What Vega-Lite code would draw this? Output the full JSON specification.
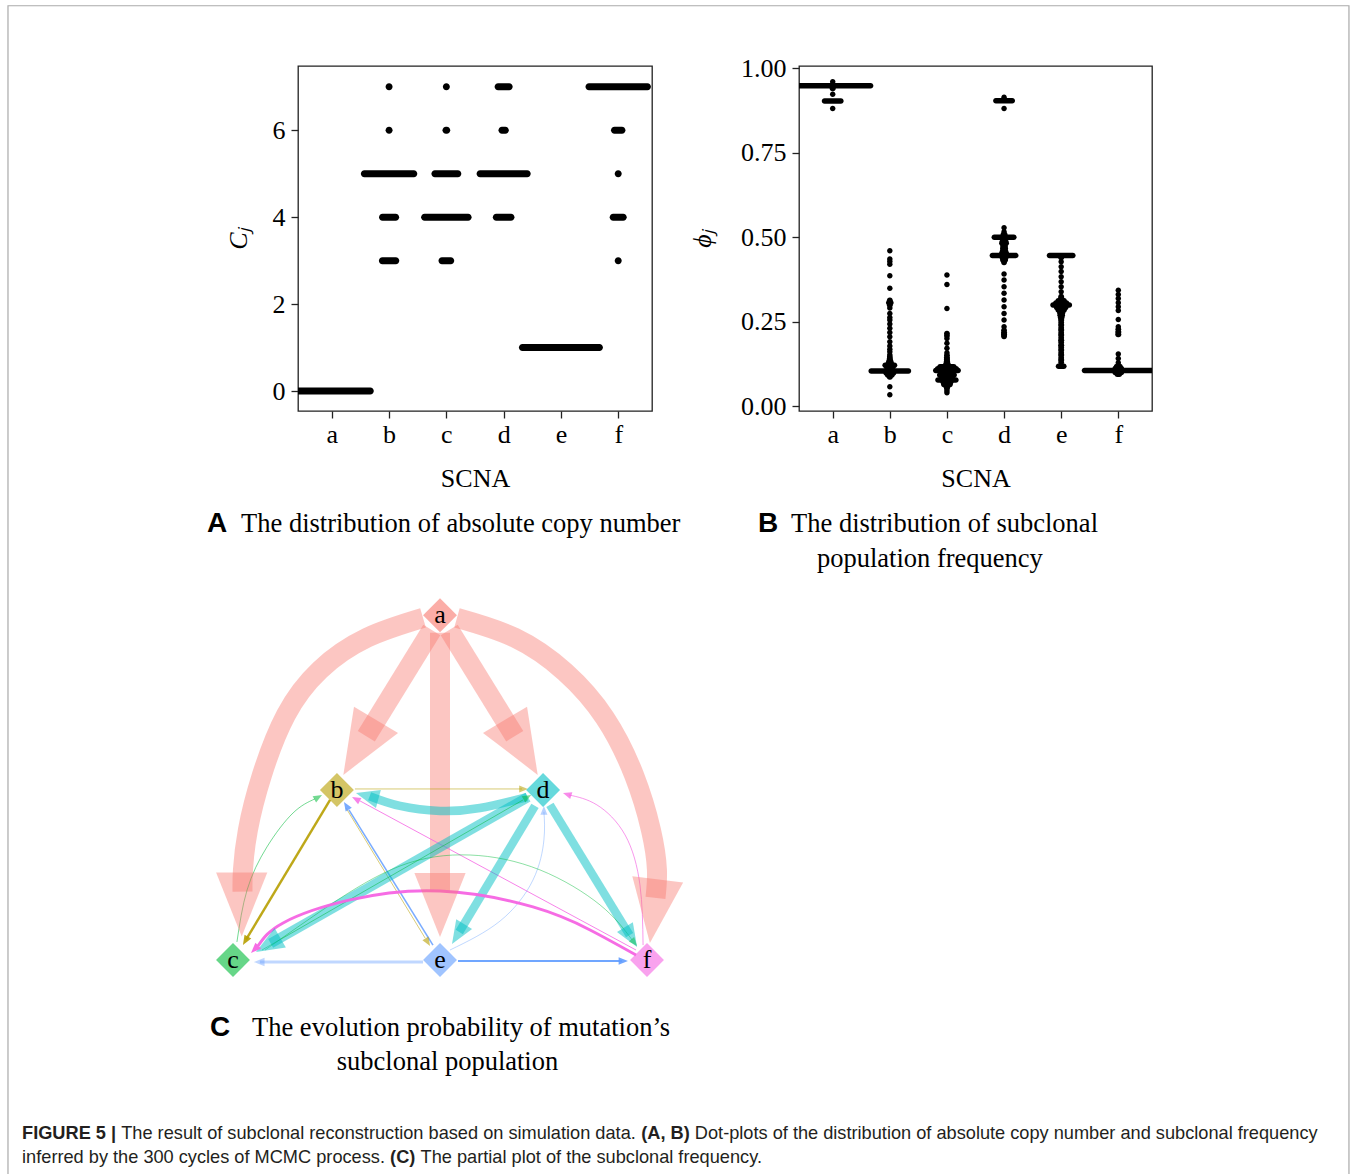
{
 "$schema": "https://vega.github.io/schema/vega-lite/v6.json",
 "background": "white",
 "padding": {"left": 7, "top": 5, "right": 0, "bottom": 0},
 "config": {
  "font": "Liberation Serif",
  "view": {"stroke": null},
  "axis": {"labelFont": "Liberation Serif", "labelFontSize": 26, "labelColor": "#000000", "titleFont": "Liberation Serif", "titleFontSize": 26, "titleFontWeight": "normal", "titleColor": "#000000", "tickColor": "#222222", "tickSize": 7, "tickWidth": 1.3, "domain": false, "grid": false}
 },
 "datasets": {
  "dotsA": [
   {"scna":"a","cn":0,"n":300},
   {"scna":"b","cn":7,"n":1},{"scna":"b","cn":6,"n":1},{"scna":"b","cn":5,"n":193},{"scna":"b","cn":4,"n":52},{"scna":"b","cn":3,"n":53},
   {"scna":"c","cn":7,"n":1},{"scna":"c","cn":6,"n":4},{"scna":"c","cn":5,"n":90},{"scna":"c","cn":4,"n":170},{"scna":"c","cn":3,"n":35},
   {"scna":"d","cn":7,"n":44},{"scna":"d","cn":6,"n":14},{"scna":"d","cn":5,"n":184},{"scna":"d","cn":4,"n":58},
   {"scna":"e","cn":1,"n":300},
   {"scna":"f","cn":7,"n":228},{"scna":"f","cn":6,"n":30},{"scna":"f","cn":5,"n":1},{"scna":"f","cn":4,"n":40},{"scna":"f","cn":3,"n":1}
  ],
  "dotsB": [
   {"scna":"a","phi":0.96,"n":1},{"scna":"a","phi":0.948,"n":241},{"scna":"a","phi":0.94,"n":3},{"scna":"a","phi":0.923,"n":1},{"scna":"a","phi":0.903,"n":53},{"scna":"a","phi":0.881,"n":1},
   {"scna":"b","phi":0.46,"n":1},{"scna":"b","phi":0.435,"n":1},{"scna":"b","phi":0.428,"n":1},{"scna":"b","phi":0.42,"n":1},{"scna":"b","phi":0.386,"n":1},{"scna":"b","phi":0.349,"n":1},{"scna":"b","phi":0.313,"n":2},{"scna":"b","phi":0.306,"n":8},{"scna":"b","phi":0.298,"n":2},{"scna":"b","phi":0.29,"n":1},{"scna":"b","phi":0.274,"n":1},{"scna":"b","phi":0.262,"n":1},{"scna":"b","phi":0.255,"n":1},{"scna":"b","phi":0.243,"n":1},{"scna":"b","phi":0.23,"n":1},{"scna":"b","phi":0.218,"n":1},{"scna":"b","phi":0.205,"n":1},{"scna":"b","phi":0.19,"n":1},{"scna":"b","phi":0.178,"n":1},{"scna":"b","phi":0.168,"n":1},{"scna":"b","phi":0.161,"n":1},{"scna":"b","phi":0.152,"n":1},{"scna":"b","phi":0.146,"n":2},{"scna":"b","phi":0.14,"n":3},{"scna":"b","phi":0.133,"n":6},{"scna":"b","phi":0.127,"n":10},{"scna":"b","phi":0.121,"n":31},{"scna":"b","phi":0.114,"n":20},{"scna":"b","phi":0.104,"n":119},{"scna":"b","phi":0.098,"n":25},{"scna":"b","phi":0.092,"n":15},{"scna":"b","phi":0.086,"n":3},{"scna":"b","phi":0.057,"n":1},{"scna":"b","phi":0.033,"n":1},
   {"scna":"c","phi":0.388,"n":1},{"scna":"c","phi":0.36,"n":1},{"scna":"c","phi":0.289,"n":1},{"scna":"c","phi":0.215,"n":2},{"scna":"c","phi":0.208,"n":2},{"scna":"c","phi":0.2,"n":1},{"scna":"c","phi":0.186,"n":1},{"scna":"c","phi":0.171,"n":1},{"scna":"c","phi":0.158,"n":1},{"scna":"c","phi":0.15,"n":2},{"scna":"c","phi":0.143,"n":3},{"scna":"c","phi":0.137,"n":3},{"scna":"c","phi":0.131,"n":4},{"scna":"c","phi":0.124,"n":8},{"scna":"c","phi":0.116,"n":45},{"scna":"c","phi":0.11,"n":60},{"scna":"c","phi":0.105,"n":72},{"scna":"c","phi":0.098,"n":40},{"scna":"c","phi":0.092,"n":47},{"scna":"c","phi":0.085,"n":35},{"scna":"c","phi":0.077,"n":58},{"scna":"c","phi":0.07,"n":25},{"scna":"c","phi":0.064,"n":21},{"scna":"c","phi":0.058,"n":6},{"scna":"c","phi":0.052,"n":2},{"scna":"c","phi":0.045,"n":1},{"scna":"c","phi":0.039,"n":1},
   {"scna":"d","phi":0.914,"n":1},{"scna":"d","phi":0.904,"n":53},{"scna":"d","phi":0.881,"n":1},{"scna":"d","phi":0.528,"n":1},{"scna":"d","phi":0.516,"n":1},{"scna":"d","phi":0.508,"n":6},{"scna":"d","phi":0.5,"n":63},{"scna":"d","phi":0.493,"n":10},{"scna":"d","phi":0.487,"n":12},{"scna":"d","phi":0.482,"n":15},{"scna":"d","phi":0.474,"n":8},{"scna":"d","phi":0.467,"n":9},{"scna":"d","phi":0.46,"n":10},{"scna":"d","phi":0.453,"n":15},{"scna":"d","phi":0.446,"n":75},{"scna":"d","phi":0.439,"n":12},{"scna":"d","phi":0.432,"n":9},{"scna":"d","phi":0.425,"n":2},{"scna":"d","phi":0.391,"n":1},{"scna":"d","phi":0.373,"n":1},{"scna":"d","phi":0.353,"n":1},{"scna":"d","phi":0.334,"n":1},{"scna":"d","phi":0.314,"n":1},{"scna":"d","phi":0.294,"n":1},{"scna":"d","phi":0.274,"n":1},{"scna":"d","phi":0.255,"n":1},{"scna":"d","phi":0.235,"n":1},{"scna":"d","phi":0.224,"n":2},{"scna":"d","phi":0.217,"n":3},{"scna":"d","phi":0.211,"n":3},{"scna":"d","phi":0.206,"n":2},
   {"scna":"e","phi":0.446,"n":75},{"scna":"e","phi":0.44,"n":3},{"scna":"e","phi":0.427,"n":1},{"scna":"e","phi":0.412,"n":1},{"scna":"e","phi":0.398,"n":1},{"scna":"e","phi":0.383,"n":1},{"scna":"e","phi":0.368,"n":1},{"scna":"e","phi":0.353,"n":1},{"scna":"e","phi":0.338,"n":1},{"scna":"e","phi":0.324,"n":2},{"scna":"e","phi":0.318,"n":4},{"scna":"e","phi":0.312,"n":20},{"scna":"e","phi":0.305,"n":35},{"scna":"e","phi":0.299,"n":53},{"scna":"e","phi":0.292,"n":30},{"scna":"e","phi":0.284,"n":20},{"scna":"e","phi":0.276,"n":10},{"scna":"e","phi":0.269,"n":8},{"scna":"e","phi":0.262,"n":5},{"scna":"e","phi":0.255,"n":3},{"scna":"e","phi":0.247,"n":2},{"scna":"e","phi":0.24,"n":3},{"scna":"e","phi":0.232,"n":2},{"scna":"e","phi":0.225,"n":3},{"scna":"e","phi":0.217,"n":2},{"scna":"e","phi":0.21,"n":3},{"scna":"e","phi":0.202,"n":2},{"scna":"e","phi":0.195,"n":3},{"scna":"e","phi":0.188,"n":2},{"scna":"e","phi":0.18,"n":3},{"scna":"e","phi":0.173,"n":2},{"scna":"e","phi":0.166,"n":3},{"scna":"e","phi":0.158,"n":2},{"scna":"e","phi":0.151,"n":3},{"scna":"e","phi":0.143,"n":2},{"scna":"e","phi":0.136,"n":3},{"scna":"e","phi":0.129,"n":2},{"scna":"e","phi":0.118,"n":18},
   {"scna":"f","phi":0.343,"n":1},{"scna":"f","phi":0.33,"n":1},{"scna":"f","phi":0.318,"n":1},{"scna":"f","phi":0.306,"n":1},{"scna":"f","phi":0.294,"n":1},{"scna":"f","phi":0.283,"n":1},{"scna":"f","phi":0.256,"n":1},{"scna":"f","phi":0.235,"n":1},{"scna":"f","phi":0.227,"n":2},{"scna":"f","phi":0.219,"n":3},{"scna":"f","phi":0.212,"n":3},{"scna":"f","phi":0.154,"n":1},{"scna":"f","phi":0.141,"n":1},{"scna":"f","phi":0.128,"n":1},{"scna":"f","phi":0.117,"n":12},{"scna":"f","phi":0.111,"n":21},{"scna":"f","phi":0.105,"n":215},{"scna":"f","phi":0.099,"n":21},{"scna":"f","phi":0.094,"n":8}
  ],
  "nodes": [
   {"node":"a","x":0,"y":166.5},{"node":"b","x":-49.8,"y":82.1},{"node":"d","x":49.8,"y":82.1},
   {"node":"c","x":-100,"y":0},{"node":"e","x":0,"y":0},{"node":"f","x":100,"y":0}
  ],
  "edges": [
   {"e":"ab","src":"a","w":0.9,"alpha":0.42,"i":0,"x":-3.96,"y":159.4},{"e":"ab","src":"a","w":0.9,"alpha":0.42,"i":1,"x":-35.6,"y":108.1},
   {"e":"ad","src":"a","w":0.9,"alpha":0.42,"i":0,"x":4.44,"y":159.4},{"e":"ad","src":"a","w":0.9,"alpha":0.42,"i":1,"x":36.1,"y":108.1},
   {"e":"ae","src":"a","w":0.9,"alpha":0.42,"i":0,"x":0,"y":158.0},{"e":"ae","src":"a","w":0.9,"alpha":0.42,"i":1,"x":0,"y":32.9},
   {"e":"ac","src":"a","w":0.9,"alpha":0.42,"i":0,"x":-8.2,"y":165.2},{"e":"ac","src":"a","w":0.9,"alpha":0.42,"i":1,"x":-35.3,"y":155.6},{"e":"ac","src":"a","w":0.9,"alpha":0.42,"i":2,"x":-58.0,"y":140.1},{"e":"ac","src":"a","w":0.9,"alpha":0.42,"i":3,"x":-74.4,"y":118.4},{"e":"ac","src":"a","w":0.9,"alpha":0.42,"i":4,"x":-86.0,"y":89.4},{"e":"ac","src":"a","w":0.9,"alpha":0.42,"i":5,"x":-92.8,"y":62.8},{"e":"ac","src":"a","w":0.9,"alpha":0.42,"i":6,"x":-95.2,"y":43.5},{"e":"ac","src":"a","w":0.9,"alpha":0.42,"i":7,"x":-95.4,"y":33.0},
   {"e":"af","src":"a","w":0.9,"alpha":0.42,"i":0,"x":8.2,"y":165.2},{"e":"af","src":"a","w":0.9,"alpha":0.42,"i":1,"x":36.2,"y":155.6},{"e":"af","src":"a","w":0.9,"alpha":0.42,"i":2,"x":60.4,"y":139.1},{"e":"af","src":"a","w":0.9,"alpha":0.42,"i":3,"x":79.7,"y":116.9},{"e":"af","src":"a","w":0.9,"alpha":0.42,"i":4,"x":93.7,"y":89.4},{"e":"af","src":"a","w":0.9,"alpha":0.42,"i":5,"x":101.9,"y":62.8},{"e":"af","src":"a","w":0.9,"alpha":0.42,"i":6,"x":104.8,"y":43.5},{"e":"af","src":"a","w":0.9,"alpha":0.42,"i":7,"x":104.1,"y":30.0},
   {"e":"bd","src":"b","w":0.045,"alpha":0.55,"i":0,"x":-41.1,"y":82.6},{"e":"bd","src":"b","w":0.045,"alpha":0.55,"i":1,"x":39.6,"y":82.6},
   {"e":"db","src":"d","w":0.38,"alpha":0.5,"i":0,"x":42.0,"y":78.7},{"e":"db","src":"d","w":0.38,"alpha":0.5,"i":1,"x":19.3,"y":73.4},{"e":"db","src":"d","w":0.38,"alpha":0.5,"i":2,"x":0,"y":72.0},{"e":"db","src":"d","w":0.38,"alpha":0.5,"i":3,"x":-19.3,"y":74.4},{"e":"db","src":"d","w":0.38,"alpha":0.5,"i":4,"x":-34.0,"y":79.1},
   {"e":"bc","src":"b","w":0.11,"alpha":0.9,"i":0,"x":-53.1,"y":77.3},{"e":"bc","src":"b","w":0.11,"alpha":0.9,"i":1,"x":-93.7,"y":9.8},
   {"e":"cb","src":"c","w":0.045,"alpha":0.55,"i":0,"x":-98.1,"y":8.7},{"e":"cb","src":"c","w":0.045,"alpha":0.55,"i":1,"x":-93.2,"y":33.8},{"e":"cb","src":"c","w":0.045,"alpha":0.55,"i":2,"x":-83.6,"y":54.6},{"e":"cb","src":"c","w":0.045,"alpha":0.55,"i":3,"x":-71.0,"y":71.0},{"e":"cb","src":"c","w":0.045,"alpha":0.55,"i":4,"x":-60.4,"y":77.8},
   {"e":"eb","src":"e","w":0.07,"alpha":0.85,"i":0,"x":-3.4,"y":7.2},{"e":"eb","src":"e","w":0.07,"alpha":0.85,"i":1,"x":-44.0,"y":72.5},
   {"e":"be","src":"b","w":0.04,"alpha":0.6,"i":0,"x":-45.4,"y":73.4},{"e":"be","src":"b","w":0.04,"alpha":0.6,"i":1,"x":-7.2,"y":10.6},
   {"e":"fb","src":"f","w":0.045,"alpha":0.8,"i":0,"x":94.7,"y":4.8},{"e":"fb","src":"f","w":0.045,"alpha":0.8,"i":1,"x":-38.6,"y":76.8},
   {"e":"dc","src":"d","w":0.45,"alpha":0.5,"i":0,"x":42.5,"y":78.7},{"e":"dc","src":"d","w":0.45,"alpha":0.5,"i":1,"x":-81.8,"y":8.0},
   {"e":"cd","src":"c","w":0.045,"alpha":0.5,"i":0,"x":-86.0,"y":4.8},{"e":"cd","src":"c","w":0.045,"alpha":0.5,"i":1,"x":40.1,"y":77.3},
   {"e":"de","src":"d","w":0.38,"alpha":0.5,"i":0,"x":45.9,"y":74.4},{"e":"de","src":"d","w":0.38,"alpha":0.5,"i":1,"x":9.3,"y":13.5},
   {"e":"df","src":"d","w":0.38,"alpha":0.5,"i":0,"x":53.1,"y":74.9},{"e":"df","src":"d","w":0.38,"alpha":0.5,"i":1,"x":91.6,"y":12.0},
   {"e":"ed","src":"e","w":0.04,"alpha":0.45,"i":0,"x":4.8,"y":4.8},{"e":"ed","src":"e","w":0.04,"alpha":0.45,"i":1,"x":29.0,"y":18.8},{"e":"ed","src":"e","w":0.04,"alpha":0.45,"i":2,"x":44.9,"y":38.6},{"e":"ed","src":"e","w":0.04,"alpha":0.45,"i":3,"x":50.2,"y":58.0},{"e":"ed","src":"e","w":0.04,"alpha":0.45,"i":4,"x":50.2,"y":71.5},
   {"e":"fd","src":"f","w":0.04,"alpha":0.75,"i":0,"x":98.1,"y":7.2},{"e":"fd","src":"f","w":0.04,"alpha":0.75,"i":1,"x":96.6,"y":36.2},{"e":"fd","src":"f","w":0.04,"alpha":0.75,"i":2,"x":89.4,"y":60.4},{"e":"fd","src":"f","w":0.04,"alpha":0.75,"i":3,"x":75.8,"y":74.9},{"e":"fd","src":"f","w":0.04,"alpha":0.75,"i":4,"x":62.3,"y":79.7},
   {"e":"cf","src":"c","w":0.045,"alpha":0.45,"i":0,"x":-84.5,"y":4.8},{"e":"cf","src":"c","w":0.045,"alpha":0.45,"i":1,"x":-53.1,"y":26.6},{"e":"cf","src":"c","w":0.045,"alpha":0.45,"i":2,"x":-19.3,"y":45.4},{"e":"cf","src":"c","w":0.045,"alpha":0.45,"i":3,"x":14.5,"y":50.7},{"e":"cf","src":"c","w":0.045,"alpha":0.45,"i":4,"x":48.3,"y":43.5},{"e":"cf","src":"c","w":0.045,"alpha":0.45,"i":5,"x":77.3,"y":26.6},{"e":"cf","src":"c","w":0.045,"alpha":0.45,"i":6,"x":92.8,"y":9.7},
   {"e":"fc","src":"f","w":0.13,"alpha":0.95,"i":0,"x":94.7,"y":2.4},{"e":"fc","src":"f","w":0.13,"alpha":0.95,"i":1,"x":72.5,"y":14.5},{"e":"fc","src":"f","w":0.13,"alpha":0.95,"i":2,"x":44.9,"y":25.6},{"e":"fc","src":"f","w":0.13,"alpha":0.95,"i":3,"x":0,"y":33.3},{"e":"fc","src":"f","w":0.13,"alpha":0.95,"i":4,"x":-43.5,"y":29.0},{"e":"fc","src":"f","w":0.13,"alpha":0.95,"i":5,"x":-75.8,"y":17.9},{"e":"fc","src":"f","w":0.13,"alpha":0.95,"i":6,"x":-87.9,"y":6.8},
   {"e":"ec","src":"e","w":0.14,"alpha":0.4,"i":0,"x":-8.2,"y":-1.0},{"e":"ec","src":"e","w":0.14,"alpha":0.4,"i":1,"x":-87.0,"y":-1.0},
   {"e":"ef","src":"e","w":0.09,"alpha":0.9,"i":0,"x":8.7,"y":-0.5},{"e":"ef","src":"e","w":0.09,"alpha":0.9,"i":1,"x":87.9,"y":-0.5}
  ],
  "heads": [
   {"e":"ab","src":"a","w":0.9,"alpha":0.42,"x":-46.7,"y":89.4,"ang":-149.3},
   {"e":"ad","src":"a","w":0.9,"alpha":0.42,"x":47.2,"y":89.4,"ang":149.3},
   {"e":"ae","src":"a","w":0.9,"alpha":0.42,"x":0,"y":11.1,"ang":180},
   {"e":"ac","src":"a","w":0.9,"alpha":0.42,"x":-95.8,"y":11.3,"ang":180},
   {"e":"af","src":"a","w":0.9,"alpha":0.42,"x":101.4,"y":8.2,"ang":-173},
   {"e":"bd","src":"b","w":0.045,"alpha":0.55,"x":42.5,"y":82.6,"ang":90},
   {"e":"db","src":"d","w":0.38,"alpha":0.5,"x":-40.6,"y":80.7,"ang":-74.7},
   {"e":"bc","src":"b","w":0.11,"alpha":0.9,"x":-95.2,"y":7.2,"ang":-149.5},
   {"e":"cb","src":"c","w":0.045,"alpha":0.55,"x":-57.0,"y":79.7,"ang":60.3},
   {"e":"eb","src":"e","w":0.07,"alpha":0.85,"x":-46.4,"y":76.3,"ang":-31.9},
   {"e":"be","src":"b","w":0.04,"alpha":0.6,"x":-4.8,"y":6.8,"ang":148.1},
   {"e":"fb","src":"f","w":0.045,"alpha":0.8,"x":-42.5,"y":78.7,"ang":-61.7},
   {"e":"dc","src":"d","w":0.45,"alpha":0.5,"x":-88.9,"y":3.9,"ang":-120.2},
   {"e":"cd","src":"c","w":0.045,"alpha":0.5,"x":44.0,"y":79.7,"ang":60.1},
   {"e":"de","src":"d","w":0.38,"alpha":0.5,"x":5.8,"y":7.7,"ang":-148.5},
   {"e":"df","src":"d","w":0.38,"alpha":0.5,"x":95.2,"y":6.3,"ang":148.5},
   {"e":"ed","src":"e","w":0.04,"alpha":0.45,"x":50.2,"y":74.4,"ang":0},
   {"e":"fd","src":"f","w":0.04,"alpha":0.75,"x":59.4,"y":80.7,"ang":-71.6},
   {"e":"cf","src":"c","w":0.045,"alpha":0.45,"x":95.2,"y":6.8,"ang":140.2},
   {"e":"fc","src":"f","w":0.13,"alpha":0.95,"x":-91.3,"y":3.4,"ang":-135},
   {"e":"ec","src":"e","w":0.14,"alpha":0.4,"x":-89.9,"y":-1.0,"ang":-90},
   {"e":"ef","src":"e","w":0.09,"alpha":0.9,"x":90.8,"y":-0.5,"ang":90}
  ]
 },
 "bounds": "flush",
 "spacing": 524,
 "resolve": {"scale": {"size": "independent", "opacity": "independent", "strokeWidth": "independent", "angle": "independent"}},
 "vconcat": [
  {
   "bounds": "flush",
   "spacing": 147,
   "resolve": {"scale": {"size": "independent"}},
   "hconcat": [
    {
     "width": 354, "height": 345,
     "view": {"stroke": "#222222", "strokeWidth": 1.3},
     "data": {"name": "dotsA"},
     "mark": {"type": "tick", "orient": "horizontal", "thickness": 7, "cornerRadius": 3.5, "color": "#000000", "opacity": 1, "clip": true},
     "encoding": {
      "x": {"field": "scna", "type": "nominal", "sort": ["a","b","c","d","e","f"], "scale": {"type": "point", "padding": 0.59}, "axis": {"title": "SCNA", "labelAngle": 0, "labelPadding": 3, "titlePadding": 18}},
      "y": {"field": "cn", "type": "quantitative", "scale": {"domain": [-0.46, 7.48], "nice": false, "zero": false}, "axis": {"values": [0,2,4,6], "format": "d", "labelPadding": 6, "title": "Cⱼ", "titleFontStyle": "italic", "titlePadding": 21}},
      "size": {"field": "n", "type": "quantitative", "scale": {"type": "linear", "domain": [1, 300], "range": [7, 84], "zero": false}, "legend": null}
     }
    },
    {
     "width": 353, "height": 345,
     "view": {"stroke": "#222222", "strokeWidth": 1.3},
     "data": {"name": "dotsB"},
     "mark": {"type": "tick", "orient": "horizontal", "thickness": 5.5, "cornerRadius": 2.75, "color": "#000000", "opacity": 1, "clip": true},
     "encoding": {
      "x": {"field": "scna", "type": "nominal", "sort": ["a","b","c","d","e","f"], "scale": {"type": "point", "padding": 0.59}, "axis": {"title": "SCNA", "labelAngle": 0, "labelPadding": 3, "titlePadding": 18}},
      "y": {"field": "phi", "type": "quantitative", "scale": {"domain": [-0.0148, 1.0068], "nice": false, "zero": false}, "axis": {"values": [0,0.25,0.5,0.75,1], "format": ".2f", "labelPadding": 6, "title": "ϕⱼ", "titleFontStyle": "italic", "titlePadding": 25}},
      "size": {"field": "n", "type": "quantitative", "scale": {"type": "linear", "domain": [1, 300], "range": [5.5, 100], "zero": false}, "legend": null}
     }
    }
   ]
  },
  {
   "width": 402, "height": 400,
   "view": {"stroke": null},
   "layer": [
    {
     "data": {"name": "edges"},
     "mark": {"type": "line", "interpolate": "natural", "strokeCap": "butt"},
     "encoding": {
      "x": {"field": "x", "type": "quantitative", "scale": {"domain": [-68.6, 125.6], "nice": false, "zero": false}, "axis": null},
      "y": {"field": "y", "type": "quantitative", "scale": {"domain": [-14.5, 178.7], "nice": false, "zero": false}, "axis": null},
      "order": {"field": "i", "type": "quantitative"},
      "detail": {"field": "e", "type": "nominal"},
      "color": {"field": "src", "type": "nominal", "scale": {"domain": ["a","b","c","d","e","f"], "range": ["#F8766D","#B79F00","#00BA38","#00BFC4","#619CFF","#F564E3"]}, "legend": null},
      "strokeWidth": {"field": "w", "type": "quantitative", "scale": {"domain": [0, 0.9], "range": [0, 20]}, "legend": null},
      "opacity": {"field": "alpha", "type": "quantitative", "scale": null}
     }
    },
    {
     "data": {"name": "heads"},
     "mark": {"type": "point", "shape": "M0,0L-0.4,1L0.4,1Z", "filled": true, "strokeWidth": 0},
     "encoding": {
      "x": {"field": "x", "type": "quantitative", "scale": {"domain": [-68.6, 125.6], "nice": false, "zero": false}, "axis": null},
      "y": {"field": "y", "type": "quantitative", "scale": {"domain": [-14.5, 178.7], "nice": false, "zero": false}, "axis": null},
      "angle": {"field": "ang", "type": "quantitative", "scale": null},
      "size": {"field": "w", "type": "quantitative", "scale": {"type": "pow", "exponent": 2.5, "domain": [0, 0.9], "range": [300, 16400]}, "legend": null},
      "color": {"field": "src", "type": "nominal", "scale": {"domain": ["a","b","c","d","e","f"], "range": ["#F8766D","#B79F00","#00BA38","#00BFC4","#619CFF","#F564E3"]}, "legend": null},
      "opacity": {"field": "alpha", "type": "quantitative", "scale": null}
     }
    },
    {
     "data": {"name": "nodes"},
     "mark": {"type": "point", "shape": "diamond", "filled": true, "size": 1150, "opacity": 0.6, "strokeWidth": 0},
     "encoding": {
      "x": {"field": "x", "type": "quantitative", "scale": {"domain": [-68.6, 125.6], "nice": false, "zero": false}, "axis": null},
      "y": {"field": "y", "type": "quantitative", "scale": {"domain": [-14.5, 178.7], "nice": false, "zero": false}, "axis": null},
      "color": {"field": "node", "type": "nominal", "scale": {"domain": ["a","b","c","d","e","f"], "range": ["#F8766D","#B79F00","#00BA38","#00BFC4","#619CFF","#F564E3"]}, "legend": null}
     }
    },
    {
     "data": {"name": "nodes"},
     "mark": {"type": "text", "font": "Liberation Serif", "fontSize": 26, "color": "#000000", "align": "center", "baseline": "middle"},
     "encoding": {
      "x": {"field": "x", "type": "quantitative", "scale": {"domain": [-68.6, 125.6], "nice": false, "zero": false}, "axis": null},
      "y": {"field": "y", "type": "quantitative", "scale": {"domain": [-14.5, 178.7], "nice": false, "zero": false}, "axis": null},
      "text": {"field": "node"}
     }
    },
    {
     "data": {"values": [{}]},
     "mark": {"type": "rect", "fillOpacity": 0, "stroke": "#aaaaaa", "strokeWidth": 1.2},
     "encoding": {
      "x": {"datum": -208.7, "type": "quantitative", "scale": {"domain": [-68.6, 125.6], "nice": false, "zero": false}, "axis": null},
      "x2": {"datum": 439.1},
      "y": {"datum": 460.9, "type": "quantitative", "scale": {"domain": [-14.5, 178.7], "nice": false, "zero": false}, "axis": null},
      "y2": {"datum": -115.9}
     }
    },
    {
     "data": {"values": [{}]},
     "mark": {"type": "text", "font": "Liberation Sans", "fontWeight": "bold", "fontSize": 28, "align": "left", "baseline": "alphabetic", "color": "#000000", "text": "A"},
     "encoding": {"x": {"datum": -112.6, "type": "quantitative"}, "y": {"datum": 206.8, "type": "quantitative"}}
    },
    {
     "data": {"values": [{}]},
     "mark": {"type": "text", "font": "Liberation Serif", "fontSize": 26.5, "align": "left", "baseline": "alphabetic", "color": "#000000", "text": "The distribution of absolute copy number"},
     "encoding": {"x": {"datum": -96.1, "type": "quantitative"}, "y": {"datum": 206.8, "type": "quantitative"}}
    },
    {
     "data": {"values": [{}]},
     "mark": {"type": "text", "font": "Liberation Sans", "fontWeight": "bold", "fontSize": 28, "align": "left", "baseline": "alphabetic", "color": "#000000", "text": "B"},
     "encoding": {"x": {"datum": 153.6, "type": "quantitative"}, "y": {"datum": 206.8, "type": "quantitative"}}
    },
    {
     "data": {"values": [{}]},
     "mark": {"type": "text", "font": "Liberation Serif", "fontSize": 26.5, "align": "left", "baseline": "alphabetic", "color": "#000000", "text": "The distribution of subclonal"},
     "encoding": {"x": {"datum": 169.6, "type": "quantitative"}, "y": {"datum": 206.8, "type": "quantitative"}}
    },
    {
     "data": {"values": [{}]},
     "mark": {"type": "text", "font": "Liberation Serif", "fontSize": 26.5, "align": "left", "baseline": "alphabetic", "color": "#000000", "text": "population frequency"},
     "encoding": {"x": {"datum": 182.1, "type": "quantitative"}, "y": {"datum": 189.9, "type": "quantitative"}}
    },
    {
     "data": {"values": [{}]},
     "mark": {"type": "text", "font": "Liberation Sans", "fontWeight": "bold", "fontSize": 28, "align": "left", "baseline": "alphabetic", "color": "#000000", "text": "C"},
     "encoding": {"x": {"datum": -111.1, "type": "quantitative"}, "y": {"datum": -36.7, "type": "quantitative"}}
    },
    {
     "data": {"values": [{}]},
     "mark": {"type": "text", "font": "Liberation Serif", "fontSize": 26.5, "align": "left", "baseline": "alphabetic", "color": "#000000", "text": "The evolution probability of mutation’s"},
     "encoding": {"x": {"datum": -90.8, "type": "quantitative"}, "y": {"datum": -36.7, "type": "quantitative"}}
    },
    {
     "data": {"values": [{}]},
     "mark": {"type": "text", "font": "Liberation Serif", "fontSize": 26.5, "align": "center", "baseline": "alphabetic", "color": "#000000", "text": "subclonal population"},
     "encoding": {"x": {"datum": 3.6, "type": "quantitative"}, "y": {"datum": -53.1, "type": "quantitative"}}
    },
    {
     "data": {"values": [{}]},
     "mark": {"type": "text", "font": "Liberation Sans", "fontWeight": "bold", "fontSize": 18.2, "align": "left", "baseline": "alphabetic", "color": "#231f20", "text": "FIGURE 5 |"},
     "encoding": {"x": {"datum": -201.9, "type": "quantitative"}, "y": {"datum": -86.5, "type": "quantitative"}}
    },
    {
     "data": {"values": [{}]},
     "mark": {"type": "text", "font": "Liberation Sans", "fontSize": 18.2, "align": "left", "baseline": "alphabetic", "color": "#231f20", "text": "The result of subclonal reconstruction based on simulation data."},
     "encoding": {"x": {"datum": -154.0, "type": "quantitative"}, "y": {"datum": -86.5, "type": "quantitative"}}
    },
    {
     "data": {"values": [{}]},
     "mark": {"type": "text", "font": "Liberation Sans", "fontWeight": "bold", "fontSize": 18.2, "align": "left", "baseline": "alphabetic", "color": "#231f20", "text": "(A, B)"},
     "encoding": {"x": {"datum": 97.2, "type": "quantitative"}, "y": {"datum": -86.5, "type": "quantitative"}}
    },
    {
     "data": {"values": [{}]},
     "mark": {"type": "text", "font": "Liberation Sans", "fontSize": 18.2, "align": "left", "baseline": "alphabetic", "color": "#231f20", "text": "Dot-plots of the distribution of absolute copy number and subclonal frequency"},
     "encoding": {"x": {"datum": 123.1, "type": "quantitative"}, "y": {"datum": -86.5, "type": "quantitative"}}
    },
    {
     "data": {"values": [{}]},
     "mark": {"type": "text", "font": "Liberation Sans", "fontSize": 18.2, "align": "left", "baseline": "alphabetic", "color": "#231f20", "text": "inferred by the 300 cycles of MCMC process."},
     "encoding": {"x": {"datum": -201.9, "type": "quantitative"}, "y": {"datum": -98.1, "type": "quantitative"}}
    },
    {
     "data": {"values": [{}]},
     "mark": {"type": "text", "font": "Liberation Sans", "fontWeight": "bold", "fontSize": 18.2, "align": "left", "baseline": "alphabetic", "color": "#231f20", "text": "(C)"},
     "encoding": {"x": {"datum": -24.1, "type": "quantitative"}, "y": {"datum": -98.1, "type": "quantitative"}}
    },
    {
     "data": {"values": [{}]},
     "mark": {"type": "text", "font": "Liberation Sans", "fontSize": 18.2, "align": "left", "baseline": "alphabetic", "color": "#231f20", "text": "The partial plot of the subclonal frequency."},
     "encoding": {"x": {"datum": -9.4, "type": "quantitative"}, "y": {"datum": -98.1, "type": "quantitative"}}
    }
   ]
  }
 ]
}
